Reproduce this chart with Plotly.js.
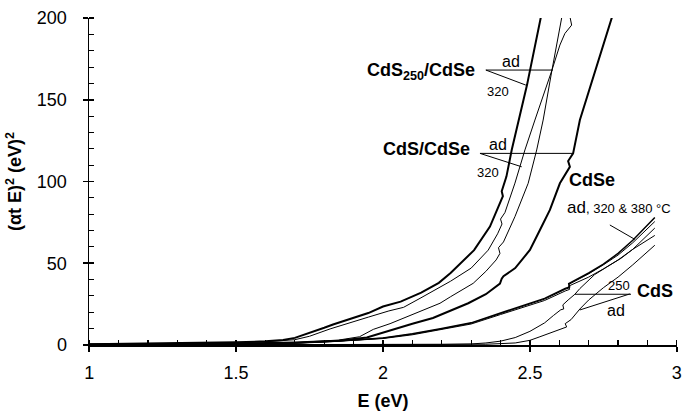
<!DOCTYPE html>
<html><head><meta charset="utf-8">
<script src="https://cdn.plot.ly/plotly-3.0.1.min.js"></script>
<style>html,body{margin:0;padding:0;background:#fff}</style>
</head><body>
<div id="chart" style="width:682px;height:416px"></div>
<script>
// ---- data (E in eV, (alpha t E)^2 in eV^2) ----
const eA = [1.0,1.2,1.4,1.5,1.6,1.66,1.7,1.75,1.8,1.83,1.9,1.95,2.0,2.06,2.13,2.19,2.23,2.31,2.364,2.398,2.408,2.404,2.42,2.438,2.49,2.54];
const vA = [0.4,0.7,1.2,1.6,2.2,3.0,4.3,7.2,10.5,12.5,16.5,19.5,23.5,26.5,32,38,44,58,72.4,86.8,91,94,103,119.3,159,203];
const eB = [1.0,1.2,1.4,1.5,1.6,1.7,1.75,1.82,1.9,1.95,2.02,2.07,2.126,2.23,2.30,2.358,2.39,2.405,2.40,2.415,2.449,2.483,2.517,2.575,2.61];
const vB = [0.3,0.5,1.0,1.3,1.9,3.2,5.3,9.8,14.5,17,20.8,23,28.5,39,47,58,68,74,77,81,99,119.3,137.6,168.2,202];
const eC = [1.0,1.3,1.5,1.7,1.85,1.92,1.967,2.024,2.126,2.194,2.23,2.307,2.35,2.385,2.398,2.393,2.41,2.449,2.494,2.523,2.545,2.575,2.602,2.619,2.642,2.636];
const vC = [0.2,0.4,0.7,1.4,3,5,9.5,13,20.5,25.5,29.5,37.7,45,52,56,59.5,63,78.5,98.9,119.3,137.6,168.2,183.5,190.6,195.7,201];
const eD = [1.0,1.3,1.5,1.7,1.85,1.945,2.024,2.1,2.17,2.23,2.29,2.35,2.398,2.404,2.41,2.45,2.5,2.534,2.568,2.602,2.619,2.636,2.630,2.647,2.67,2.725,2.78];
const vD = [0.2,0.5,0.8,1.5,2.5,4.5,9,13,16.5,21,25.5,31,37.5,40.5,42,47,58.1,70.3,82.6,98.9,104,109,112.5,117.2,137.6,170,201];
const eSe = [1.0,1.3,1.5,1.7,1.8,1.9,2.0,2.1,2.2,2.3,2.4,2.47,2.55,2.62,2.635,2.632,2.7,2.75,2.8,2.85,2.925];
const vSeAd  = [0.2,0.3,0.6,1.2,2.0,3.0,4.3,6.8,10,13.5,19.5,23.5,28.5,34.5,35.5,37.5,44,49.5,56,64,78];
const vSe320 = [0.2,0.3,0.6,1.1,1.9,2.9,4.2,6.6,9.8,13.3,19.2,23.2,28,34,35,37,43.5,49,55,62.5,75.5];
const vSe380 = [0.1,0.3,0.5,1.0,1.7,2.6,3.9,6.2,9.4,12.8,18.6,22.5,27.2,33,34,36,41.5,46.5,52,58.5,71.5];
const eS250 = [1.0,1.5,2.0,2.2,2.3,2.35,2.4,2.45,2.5,2.55,2.58,2.605,2.615,2.612,2.63,2.653,2.67,2.72,2.76,2.81,2.85,2.925];
const vS250 = [0.1,0.1,0.2,0.3,0.6,1.2,2.3,4.5,8.3,13.5,18,21.5,22,24.5,27.5,31,34.5,43,47.5,53,58.5,67];
const eSad = [1.0,1.5,2.0,2.2,2.35,2.45,2.5,2.534,2.58,2.61,2.625,2.62,2.64,2.67,2.7,2.75,2.8,2.85,2.925];
const vSad = [0.05,0.05,0.1,0.2,0.4,1.2,2.8,5,8,10,11,13,15.5,22,27.5,35,41.5,49,61];

const xRange = [1,3];
const yRange = [0,200];
const xMajor = 0.5, xMinor = 0.1;
const yMajor = 50, yMinor = 10;

const FONT = 'Arial, "Liberation Sans", Helvetica, sans-serif';
function line(x,y,w,name){return {x:x,y:y,mode:'lines',name:name,line:{color:'#000',width:w},hoverinfo:'skip'};}

const traces = [
  line(eA,vA,2.0,'CdS250/CdSe 320'),
  line(eB,vB,1.0,'CdS/CdSe 320'),
  line(eC,vC,1.0,'CdS250/CdSe ad'),
  line(eD,vD,2.0,'CdS/CdSe ad'),
  line(eSe,vSeAd,1.5,'CdSe ad'),
  line(eSe,vSe320,1.0,'CdSe 320'),
  line(eSe,vSe380,1.0,'CdSe 380'),
  line(eS250,vS250,1.0,'CdS 250'),
  line(eSad,vSad,1.0,'CdS ad'),
  {x:[xRange[0]],y:[yRange[0]],xaxis:'x2',yaxis:'y2',mode:'markers',marker:{opacity:0,size:1},showlegend:false,hoverinfo:'skip'}
];

function ann(x,y,text,size,bold,xa){
  return {x:x,y:y,xref:'x',yref:'y',text:bold?'<b>'+text+'</b>':text,showarrow:false,
    xanchor:xa||'center',yanchor:'middle',font:{family:FONT,size:size,color:'#000'}};
}
function seg(x0,y0,x1,y1){return {type:'line',xref:'x',yref:'y',x0:x0,y0:y0,x1:x1,y1:y1,line:{color:'#000',width:1}};}

const xr = [xRange[0]-0.0005, xRange[1]+0.0005];
const yr = [yRange[0]-0.05, yRange[1]+0.05];

const layout = {
  width:682,height:416,
  margin:{l:89,r:5,t:18,b:71},
  paper_bgcolor:'#fff',plot_bgcolor:'#fff',
  showlegend:false,
  font:{family:FONT,color:'#000'},
  xaxis:{range:xr,tickmode:'linear',tick0:1,dtick:xMajor,showline:true,linecolor:'#000',linewidth:1.5,
    ticks:'outside',ticklen:5,tickwidth:1.5,tickcolor:'#000',showgrid:false,zeroline:false,
    minor:{ticks:'inside',tickmode:'linear',dtick:xMinor,tick0:1,ticklen:5,tickwidth:1.2,tickcolor:'#000',showgrid:false},
    tickfont:{family:FONT,size:18,color:'#000'},ticklabelstandoff:6,ticklabeloverflow:'allow',
    title:{text:'<b>E (eV)</b>',font:{family:FONT,size:18,color:'#000'},standoff:12}},
  yaxis:{range:yr,tickmode:'linear',tick0:0,dtick:yMajor,showline:true,linecolor:'#000',linewidth:1.5,
    ticks:'outside',ticklen:5,tickwidth:1.5,tickcolor:'#000',showgrid:false,zeroline:false,
    minor:{ticks:'inside',tickmode:'linear',dtick:yMinor,tick0:0,ticklen:5,tickwidth:1.2,tickcolor:'#000',showgrid:false},
    tickfont:{family:FONT,size:18,color:'#000'},ticklabelstandoff:12,
    title:{text:'<b>(αt E)<sup>2</sup> (eV)<sup>2</sup></b>',font:{family:FONT,size:18,color:'#000'},standoff:10}},
  xaxis2:{overlaying:'x',anchor:'y',range:xr,tickmode:'linear',tick0:1,dtick:xMajor,ticks:'inside',ticklen:5,tickwidth:1.5,tickcolor:'#000',
    showticklabels:false,showline:false,showgrid:false,zeroline:false},
  yaxis2:{overlaying:'y',anchor:'x',side:'left',range:yr,tickmode:'linear',tick0:0,dtick:yMajor,ticks:'inside',ticklen:5,tickwidth:1.5,tickcolor:'#000',
    showticklabels:false,showline:false,showgrid:false,zeroline:false},
  annotations:[
    ann(2.320,167.6,'CdS<sub>250</sub>/CdSe',18,true,'right'),
    ann(2.437,173.5,'ad',16,false),
    ann(2.391,155,'320',13,false),
    ann(2.302,119.9,'CdS/CdSe',18,true,'right'),
    ann(2.391,122.5,'ad',16,false),
    ann(2.357,105.5,'320',13,false),
    ann(2.712,100.8,'CdSe',18,true),
    ann(2.619,84.1,'ad<span style="font-size:13px">, 320 &amp; 380 °C</span>',17,false,'left'),
    ann(2.857,33,'CdS',18,true,'left'),
    ann(2.803,36.3,'250',13,false),
    ann(2.793,20.8,'ad',16,false)
  ],
  shapes:[
    seg(2.350,168.2,2.578,168.2),
    seg(2.350,168.2,2.486,159),
    seg(2.330,117.2,2.647,117.2),
    seg(2.330,117.2,2.472,109),
    seg(2.772,73.4,2.857,64.6),
    seg(2.844,31,2.653,31),
    seg(2.840,31.2,2.670,21.4)
  ]
};
Plotly.newPlot('chart',traces,layout,{displayModeBar:false,staticPlot:true});
</script>
</body></html>
